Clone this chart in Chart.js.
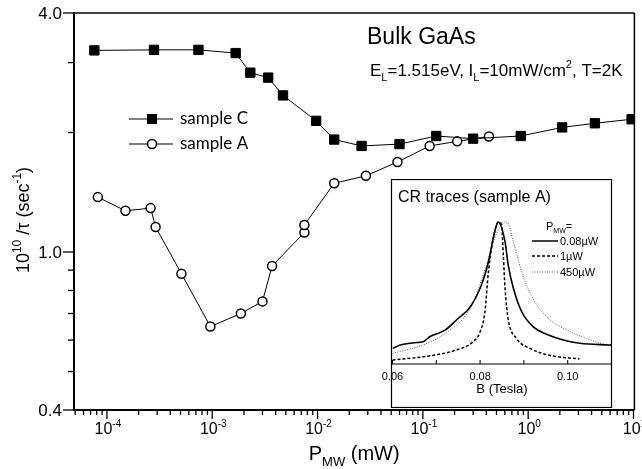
<!DOCTYPE html>
<html>
<head>
<meta charset="utf-8">
<script src="https://cdn.jsdelivr.net/npm/chart.js@4.4.0/dist/chart.umd.min.js"></script>
<style>
  body { margin: 0; background: #fff; }
  #wrap { position: relative; width: 642px; height: 469px; }
  #main { position: absolute; left: 0; top: 0; }
  #inset { position: absolute; left: 375px; top: 179px; }
</style>
</head>
<body>
<div id="wrap">
  <canvas id="main" width="642" height="469"></canvas>
  <canvas id="inset" width="240" height="229"></canvas>
</div>
<script>
// ---- main plot data : P_MW (mW) vs 10^10/tau (sec^-1)
const sampleC_P    = [7.6e-5, 2.8e-4, 7.4e-4, 1.67e-3, 2.3e-3, 3.4e-3, 4.7e-3, 9.7e-3, 0.0144, 0.0262, 0.060, 0.134, 0.30, 0.85, 2.1, 4.3, 9.6];
const sampleC_rate = [3.22, 3.23, 3.23, 3.17, 2.83, 2.75, 2.48, 2.14, 1.92, 1.85, 1.87, 1.96, 1.93, 1.96, 2.06, 2.11, 2.16];

const sampleA_P    = [8.2e-5, 1.5e-4, 2.6e-4, 2.9e-4, 5.1e-4, 9.6e-4, 1.87e-3, 3.0e-3, 3.7e-3, 7.5e-3, 7.5e-3, 0.0144, 0.0288, 0.0574, 0.116, 0.212, 0.424];
const sampleA_rate = [1.375, 1.27, 1.29, 1.156, 0.882, 0.649, 0.70, 0.751, 0.922, 1.12, 1.17, 1.49, 1.556, 1.686, 1.85, 1.90, 1.955];

const xTickExps   = [-4, -3, -2, -1, 0, 1];
const yTickValues = [0.4, 1.0, 4.0];
const yTickLabels = ['0.4', '1.0', '4.0'];
const yMinorTicks = [0.5, 0.6, 0.7, 0.8, 0.9, 2, 3];

// ---- inset data : CR traces (sample A), B (Tesla) vs signal (arb.)
const trace008_B = [0.060, 0.0620, 0.0650, 0.0670, 0.0685, 0.0720, 0.0746, 0.0777, 0.0803, 0.0819, 0.0830, 0.0841, 0.0857, 0.0864, 0.0876, 0.0895, 0.0921, 0.0956, 0.0990, 0.1028, 0.1093, 0.110];
const trace008_I = [0.110, 0.135, 0.150, 0.157, 0.192, 0.239, 0.31, 0.40, 0.556, 0.72, 0.885, 1.0, 0.86, 0.70, 0.533, 0.368, 0.263, 0.204, 0.169, 0.146, 0.134, 0.133];

const trace1_B = [0.060, 0.067, 0.0746, 0.0784, 0.080, 0.0811, 0.0819, 0.0830, 0.0839, 0.0843, 0.0849, 0.0853, 0.0857, 0.0864, 0.0883, 0.0914, 0.0956, 0.1027];
const trace1_I = [0.028, 0.051, 0.099, 0.157, 0.227, 0.368, 0.65, 0.885, 0.99, 1.0, 0.98, 0.77, 0.53, 0.32, 0.18, 0.11, 0.063, 0.035];

const trace450_B = [0.060, 0.067, 0.072, 0.0777, 0.0815, 0.0835, 0.0852, 0.0861, 0.0876, 0.0895, 0.0921, 0.0956, 0.0998, 0.1043, 0.1093, 0.110];
const trace450_I = [0.075, 0.134, 0.216, 0.39, 0.70, 0.90, 0.99, 1.0, 0.86, 0.65, 0.46, 0.32, 0.24, 0.18, 0.134, 0.133];

const insetTickLabels = ['0.06', '0.08', '0.10'];

const SANS = '"Liberation Sans", Arial, sans-serif';
const LEG = 'Lato, "Open Sans", sans-serif';

function pts(xs, ys) { return xs.map((v, i) => ({ x: v, y: ys[i] })); }

function seg(ctx, x1, y1, x2, y2) {
  ctx.beginPath(); ctx.moveTo(x1, y1); ctx.lineTo(x2, y2); ctx.stroke();
}

// text with super/subscripts : parts = [[text, mode]], mode 1 = sup, -1 = sub
function rich(ctx, parts, x, y, size, align, family) {
  family = family || SANS;
  const fonts = parts.map(p => (p[1] ? Math.round(size * 0.65) : size) + 'px ' + family);
  let w = 0;
  parts.forEach((p, i) => { ctx.font = fonts[i]; w += ctx.measureText(p[0]).width; });
  let cx = align === 'center' ? x - w / 2 : align === 'right' ? x - w : x;
  ctx.textAlign = 'left';
  ctx.textBaseline = 'alphabetic';
  parts.forEach((p, i) => {
    ctx.font = fonts[i];
    const dy = p[1] === 1 ? -size * 0.45 : p[1] === -1 ? size * 0.3 : 0;
    ctx.fillText(p[0], cx, y + dy);
    cx += ctx.measureText(p[0]).width;
  });
}

const mainDecor = {
  id: 'mainDecor',
  afterDraw(chart) {
    const { ctx, chartArea: a, scales: { x, y } } = chart;
    ctx.save();
    ctx.strokeStyle = '#000';
    ctx.fillStyle = '#000';

    // frame
    ctx.lineWidth = 1.5;
    seg(ctx, a.left, a.top, a.right, a.top);
    seg(ctx, a.right, a.top, a.right, a.bottom);
    ctx.lineWidth = 2;
    seg(ctx, a.left, a.top - 1, a.left, a.bottom + 1);
    seg(ctx, a.left - 1, a.bottom, a.right, a.bottom);

    // y ticks
    ctx.lineWidth = 1.3;
    yMinorTicks.forEach(v => { const py = y.getPixelForValue(v); seg(ctx, a.left - 6, py, a.left, py); });
    yTickValues.forEach((v, i) => {
      const py = y.getPixelForValue(v);
      seg(ctx, a.left - 11, py, a.left, py);
      ctx.font = '17px ' + SANS;
      ctx.textAlign = 'right';
      ctx.textBaseline = 'middle';
      ctx.fillText(yTickLabels[i], a.left - 12, py + 1);
    });

    // x ticks
    for (let e = -5; e <= 1; e++) {
      for (let m = 1; m <= 9; m++) {
        const v = m * Math.pow(10, e);
        if (v < x.min || v > x.max * 1.0001) continue;
        const px = x.getPixelForValue(v);
        seg(ctx, px, a.bottom, px, a.bottom + (m === 1 ? 9 : 5));
      }
    }
    xTickExps.forEach(e => {
      const px = x.getPixelForValue(Math.pow(10, e));
      rich(ctx, [['10', 0], [String(e), 1]], px + 1, 434, 16, 'center');
    });

    // axis titles
    rich(ctx, [['P', 0], ['MW', -1], [' (mW)', 0]], (a.left + a.right) / 2, 460, 20, 'center');
    ctx.save();
    ctx.translate(29, 220);
    ctx.rotate(-Math.PI / 2);
    rich(ctx, [['10', 0], ['10', 1], [' /\u03c4 (sec', 0], ['-1', 1], [')', 0]], 0, 0, 18, 'center');
    ctx.restore();

    // annotation
    ctx.font = '23px ' + SANS;
    ctx.textAlign = 'left';
    ctx.textBaseline = 'alphabetic';
    ctx.fillText('Bulk GaAs', 367, 44);
    rich(ctx, [['E', 0], ['L', -1], ['=1.515eV, I', 0], ['L', -1], ['=10mW/cm', 0], ['2', 1], [', T=2K', 0]], 370, 76, 17, 'left');

    // legend
    ctx.lineWidth = 1;
    seg(ctx, 129, 119, 173, 119);
    ctx.fillRect(147, 114, 10, 10);
    seg(ctx, 129, 144, 173, 144);
    ctx.beginPath();
    ctx.arc(152, 144, 4.5, 0, Math.PI * 2);
    ctx.fillStyle = '#fff'; ctx.fill();
    ctx.lineWidth = 1.5; ctx.stroke();
    ctx.fillStyle = '#000';
    ctx.font = '17px ' + LEG;
    ctx.textBaseline = 'middle';
    ctx.fillText('sample C', 180, 119);
    ctx.fillText('sample A', 180, 144);
    ctx.restore();
  }
};

new Chart(document.getElementById('main'), {
  type: 'scatter',
  data: {
    datasets: [
      {
        label: 'sample C',
        data: pts(sampleC_P, sampleC_rate),
        showLine: true,
        borderColor: '#000',
        borderWidth: 1,
        pointStyle: 'rect',
        pointRadius: 6.6,
        pointBackgroundColor: '#000',
        pointBorderColor: '#000',
        pointBorderWidth: 1
      },
      {
        label: 'sample A',
        data: pts(sampleA_P, sampleA_rate),
        showLine: true,
        borderColor: '#000',
        borderWidth: 1,
        pointStyle: 'circle',
        pointRadius: 4.5,
        pointBackgroundColor: '#fff',
        pointBorderColor: '#000',
        pointBorderWidth: 1.5
      }
    ]
  },
  options: {
    responsive: false,
    animation: false,
    devicePixelRatio: 1,
    layout: { padding: { left: 74, right: 5, top: 13, bottom: 59 } },
    plugins: { legend: { display: false }, tooltip: { enabled: false } },
    scales: {
      x: { type: 'logarithmic', min: 4.87e-5, max: 10.2, display: false },
      y: { type: 'logarithmic', min: 0.4, max: 4.0, display: false }
    }
  },
  plugins: [mainDecor]
});

// ---- inset (canvas starts 16px left of its box so the 0.06 label fits)
const BOX_X = 16;
const insetDecor = {
  id: 'insetDecor',
  beforeDraw(chart) {
    const { ctx, height } = chart;
    ctx.save();
    ctx.fillStyle = '#fff';
    ctx.fillRect(BOX_X, 0, 221, height);
    ctx.restore();
  },
  afterDraw(chart) {
    const { ctx, chartArea: a, scales: { x }, height } = chart;
    ctx.save();
    ctx.strokeStyle = '#000';
    ctx.fillStyle = '#000';
    ctx.lineWidth = 1.2;
    ctx.strokeRect(BOX_X + 0.5, 0.5, 220, height - 1);
    seg(ctx, BOX_X, a.bottom, BOX_X + 221, a.bottom);
    ctx.lineWidth = 1;
    for (let k = 0; k <= 5; k++) {
      const px = x.getPixelForValue(0.06 + k * 0.01);
      seg(ctx, px, a.bottom, px, a.bottom - 4);
    }
    ctx.font = '11px ' + SANS;
    ctx.textAlign = 'center';
    ctx.textBaseline = 'alphabetic';
    insetTickLabels.forEach(t => {
      ctx.fillText(t, x.getPixelForValue(parseFloat(t)), a.bottom + 16);
    });
    ctx.font = '13px ' + SANS;
    ctx.fillText('B (Tesla)', x.getPixelForValue(0.085), a.bottom + 29);

    ctx.textAlign = 'left';
    ctx.font = '16px ' + SANS;
    ctx.fillText('CR traces (sample A)', BOX_X + 7, 23);

    // legend
    rich(ctx, [['P', 0], ['MW', -1], ['=', 0]], BOX_X + 155, 51, 11, 'left');
    const rows = [['0.08\u00b5W', []], ['1\u00b5W', [3, 2]], ['450\u00b5W', [1, 1.5]]];
    const ly = [62, 77, 93];
    rows.forEach((r, i) => {
      ctx.setLineDash(r[1]);
      ctx.lineWidth = i === 2 ? 1 : 1.5;
      ctx.strokeStyle = i === 2 ? '#555' : '#000';
      seg(ctx, BOX_X + 141, ly[i], BOX_X + 167, ly[i]);
      ctx.setLineDash([]);
      ctx.font = '11px ' + SANS;
      ctx.fillText(r[0], BOX_X + 169, ly[i] + 4);
    });
    ctx.restore();
  }
};

new Chart(document.getElementById('inset'), {
  type: 'scatter',
  data: {
    datasets: [
      { label: '0.08\u00b5W', data: pts(trace008_B, trace008_I), showLine: true, pointRadius: 0,
        borderColor: '#000', borderWidth: 1.6, cubicInterpolationMode: 'monotone' },
      { label: '1\u00b5W', data: pts(trace1_B, trace1_I), showLine: true, pointRadius: 0,
        borderColor: '#000', borderWidth: 1.5, borderDash: [3, 2], cubicInterpolationMode: 'monotone' },
      { label: '450\u00b5W', data: pts(trace450_B, trace450_I), showLine: true, pointRadius: 0,
        borderColor: '#555', borderWidth: 1, borderDash: [1, 1.5], cubicInterpolationMode: 'monotone' }
    ]
  },
  options: {
    responsive: false,
    animation: false,
    devicePixelRatio: 1,
    layout: { padding: { left: BOX_X + 1.5, right: 3.5, top: 28.8, bottom: 44 } },
    plugins: { legend: { display: false }, tooltip: { enabled: false } },
    scales: {
      x: { type: 'linear', min: 0.06, max: 0.11, display: false },
      y: { type: 'linear', min: 0, max: 1.1, display: false }
    }
  },
  plugins: [insetDecor]
});
</script>
</body>
</html>
